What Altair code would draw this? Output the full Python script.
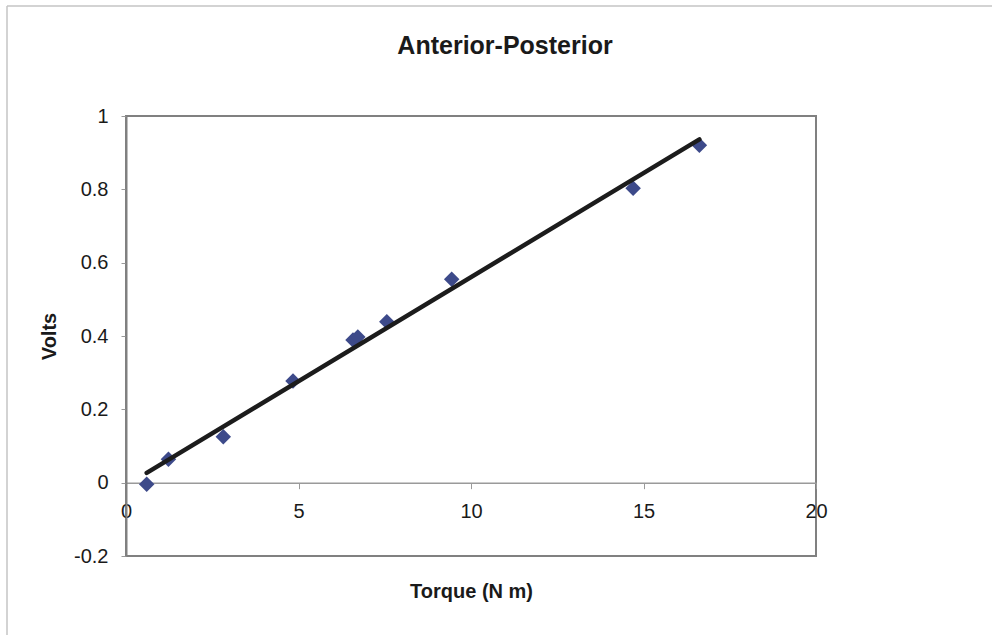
import altair as alt
import pandas as pd

title_text = "Anterior-Posterior"
x_title = "Torque (N m)"
y_title = "Volts"

torque = [0.60, 1.23, 2.82, 4.84, 6.58, 6.72, 7.56, 9.44, 14.70, 16.62]
volts = [-0.004, 0.064, 0.125, 0.277, 0.389, 0.397, 0.439, 0.555, 0.803, 0.920]

x_ticks = [0, 5, 10, 15, 20]
y_ticks = [-0.2, 0, 0.2, 0.4, 0.6, 0.8, 1]

df = pd.DataFrame({"torque": torque, "volts": volts})

W, H = 690, 440
LEFT, TOP = 126, 116
CW, CH = 992, 635
FONT = "Liberation Sans"
GREY = "#808080"
TXT = "#1a1a1a"

y_zero_offset = -(H - H * (1 / 1.2))

x_enc = alt.X(
    "torque:Q",
    scale=alt.Scale(domain=[0, 20], nice=False, zero=False),
    axis=alt.Axis(
        values=x_ticks,
        title=x_title,
        offset=y_zero_offset,
        labelFlush=False,
        grid=False,
        domainColor="#9a9a9a",
        domainWidth=1.5,
        tickColor="#9a9a9a",
        tickSize=6,
        tickWidth=1,
        labelPadding=13,
        labelFontSize=20,
        labelFont=FONT,
        labelColor=TXT,
        labelExpr="datum.value + ''",
        titleFontSize=20,
        titleFont=FONT,
        titleFontWeight="bold",
        titleColor=TXT,
        titlePadding=60,
    ),
)
y_enc = alt.Y(
    "volts:Q",
    scale=alt.Scale(domain=[-0.2, 1], nice=False, zero=False),
    axis=alt.Axis(
        values=y_ticks,
        title=y_title,
        grid=False,
        domainColor=GREY,
        domainWidth=2,
        tickColor="#9a9a9a",
        tickSize=5,
        tickWidth=1,
        labelPadding=13,
        labelFontSize=20,
        labelFont=FONT,
        labelColor=TXT,
        labelExpr="datum.value + ''",
        titleFontSize=20,
        titleFont=FONT,
        titleFontWeight="bold",
        titleColor=TXT,
        titlePadding=14,
    ),
)

points = alt.Chart(df).mark_point(
    shape="diamond", filled=True, size=240, color="#3d4a8a", opacity=1
).encode(x=x_enc, y=y_enc)

trend = (
    alt.Chart(df)
    .transform_regression("torque", "volts")
    .mark_line(color="#1c1c1c", strokeWidth=4.5, strokeCap="round")
    .encode(x="torque:Q", y="volts:Q")
)

one = pd.DataFrame({"k": [0]})
frame_top = alt.Chart(one).mark_rule(color="#c4c4c4", strokeWidth=1.5).encode(
    x=alt.value(7 - LEFT), x2=alt.value(CW - LEFT), y=alt.value(6 - TOP), y2=alt.value(6 - TOP)
)
frame_left = alt.Chart(one).mark_rule(color="#c4c4c4", strokeWidth=1.5).encode(
    x=alt.value(7 - LEFT), x2=alt.value(7 - LEFT), y=alt.value(6 - TOP), y2=alt.value(CH - TOP)
)

chart = (
    alt.layer(points, trend, frame_top, frame_left)
    .properties(
        width=W,
        height=H,
        title=alt.TitleParams(
            title_text,
            font=FONT,
            fontSize=25,
            fontWeight="bold",
            color=TXT,
            anchor="middle",
            dx=34,
            offset=-54,
        ),
        autosize=alt.AutoSizeParams(type="none"),
        padding={"left": LEFT, "top": TOP, "right": CW - LEFT - W, "bottom": CH - TOP - H},
        background="white",
    )
    .configure_view(stroke=GREY, strokeWidth=2)
)

chart.save("out.html", embed_options={"renderer": "svg", "actions": False})
